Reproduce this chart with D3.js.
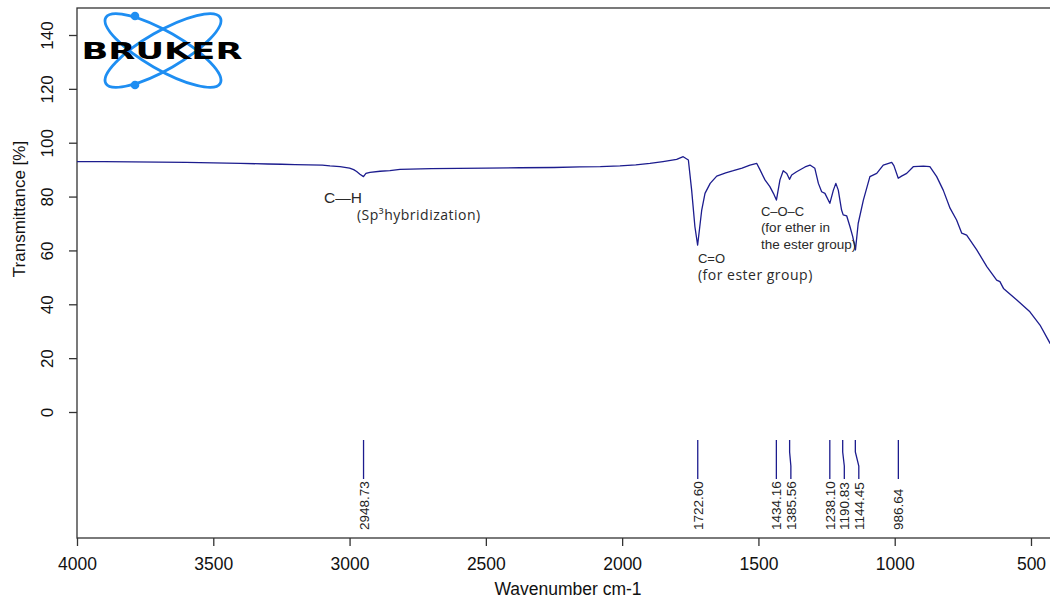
<!DOCTYPE html>
<html>
<head>
<meta charset="utf-8">
<script src="https://cdn.jsdelivr.net/npm/d3@7/dist/d3.min.js"></script>
<style>
  html, body { margin: 0; padding: 0; background: #fff; }
  svg { display: block; }
</style>
</head>
<body>
<svg id="chart" width="1050" height="603"></svg>
<script>
// ---- data ----
const wavenumbers = [4000, 3900, 3800, 3700, 3600, 3500, 3400, 3300, 3250, 3200, 3150, 3100, 3072, 3035, 3000, 2985, 2974, 2962, 2949, 2940, 2925, 2888, 2852, 2815, 2700, 2600, 2500, 2375, 2250, 2155, 2080, 2008, 1950, 1898, 1850, 1800, 1776, 1757, 1745, 1733, 1723, 1708, 1696, 1677, 1653, 1620, 1592, 1560, 1531, 1506, 1494, 1476, 1458, 1445, 1434, 1421, 1409, 1396, 1386, 1378, 1360, 1329, 1311, 1293, 1280, 1268, 1256, 1238, 1225, 1216, 1207, 1195, 1189, 1176, 1164, 1154, 1144, 1134, 1115, 1091, 1066, 1042, 1011, 1003, 987, 975, 956, 932, 895, 871, 846, 822, 797, 773, 754, 736, 699, 662, 626, 614, 601, 552, 504, 467, 430, 400];
const transmittance = [93.0, 93.0, 92.9, 92.8, 92.7, 92.5, 92.3, 92.1, 92.0, 91.9, 91.8, 91.7, 91.4, 91.1, 90.6, 90.0, 89.3, 88.3, 87.4, 88.6, 89.0, 89.4, 89.6, 90.1, 90.4, 90.5, 90.6, 90.7, 90.8, 91.0, 91.1, 91.4, 91.8, 92.3, 93.0, 93.8, 94.8, 93.6, 82.4, 68.8, 62.0, 75.0, 81.2, 84.9, 87.6, 88.8, 89.6, 90.6, 91.7, 92.3, 89.9, 86.2, 83.7, 81.2, 78.7, 86.2, 89.6, 88.6, 86.4, 88.0, 89.2, 91.0, 91.7, 90.5, 84.9, 81.8, 81.2, 77.5, 82.4, 84.9, 82.4, 75.0, 73.2, 72.8, 68.8, 65.1, 60.2, 70.0, 78.7, 87.4, 88.6, 91.7, 92.7, 91.5, 86.8, 87.6, 88.6, 91.1, 91.3, 91.1, 87.4, 82.4, 75.7, 71.3, 66.4, 65.7, 60.2, 54.0, 49.0, 48.4, 45.9, 41.6, 37.2, 32.3, 25.5, 22.0];
const peakPositions = [2948.73, 1722.60, 1434.16, 1385.56, 1238.10, 1190.83, 1144.45, 986.64];
const xTicks = [4000, 3500, 3000, 2500, 2000, 1500, 1000, 500];
const yTicks = [0, 20, 40, 60, 80, 100, 120, 140];
const xTitle = "Wavenumber cm-1";
const yTitle = "Transmittance [%]";
// annotations: text anchored at (wavenumber, %T)
const annotations = [
  {text: "C\u2014H", w: 3094, t: 77.6, font: "Liberation Sans, Arial, sans-serif", size: 15.5, ls: 0},
  {text: "(Sp\u00B3hybridization)", w: 2973, t: 71.3, font: "Open Sans, sans-serif", size: 14, ls: 0.5},
  {text: "C=O", w: 1722, t: 55.4, font: "Liberation Sans, Arial, sans-serif", size: 13, ls: 0},
  {text: "(for ester group)", w: 1722, t: 49.0, font: "Open Sans, sans-serif", size: 14, ls: 0.5},
  {text: "C\u2013O\u2013C", w: 1491, t: 72.8, font: "Liberation Sans, Arial, sans-serif", size: 13, ls: 0},
  {text: "(for ether in", w: 1491, t: 66.9, font: "Liberation Sans, Arial, sans-serif", size: 13.5, ls: 0},
  {text: "the ester group)", w: 1491, t: 60.4, font: "Liberation Sans, Arial, sans-serif", size: 13.5, ls: 0}
];

// ---- layout ----
const svg = d3.select("#chart");
const plotLeft = 77, plotTop = 8, plotBottom = 538;
const pxPerUnit = 0.27257;
const x = d3.scaleLinear().domain([4000, 400]).range([plotLeft, plotLeft + 3600 * pxPerUnit]);
const y = d3.scaleLinear().domain([0, 140]).range([412, 35]);
const lineColor = "#1c1c8e";
const axisFont = "Liberation Sans, Arial, Helvetica, sans-serif";

// box (right edge off canvas)
svg.append("rect")
  .attr("x", plotLeft).attr("y", plotTop)
  .attr("width", x(400) - plotLeft).attr("height", plotBottom - plotTop)
  .attr("fill", "none").attr("stroke", "#333").attr("stroke-width", 1.3);

// ---- logo ----
const logo = svg.append("g").attr("transform", "translate(163,50.5)");
[30, -30].forEach(a => {
  logo.append("ellipse")
    .attr("rx", 66).attr("ry", 19)
    .attr("transform", `rotate(${a})`)
    .attr("fill", "none").attr("stroke", "#1e8ef2").attr("stroke-width", 2.8);
});
logo.append("circle").attr("cx", -28).attr("cy", -34.5).attr("r", 4.3).attr("fill", "#1e8ef2");
logo.append("circle").attr("cx", -28).attr("cy", 34.5).attr("r", 4.3).attr("fill", "#1e8ef2");
svg.append("text")
  .attr("x", 81.5).attr("y", 59.3)
  .attr("textLength", 161).attr("lengthAdjust", "spacingAndGlyphs")
  .attr("font-family", "DejaVu Sans, sans-serif").attr("font-weight", 900)
  .attr("font-size", 23.5).attr("fill", "#000")
  .text("BRUKER");

// ---- axes ----
const xAxis = svg.append("g")
  .attr("transform", `translate(0,${plotBottom})`)
  .call(d3.axisBottom(x).tickValues(xTicks).tickSize(8).tickPadding(12).tickFormat(d3.format("d")));
xAxis.select(".domain").remove();
xAxis.selectAll("line").attr("stroke", "#333").attr("stroke-width", 1.3);
xAxis.selectAll("text").attr("font-family", axisFont).attr("font-size", 17.5).attr("fill", "#111");

const yAxis = svg.append("g")
  .attr("transform", `translate(${plotLeft},0)`)
  .call(d3.axisLeft(y).tickValues(yTicks).tickSize(8).tickFormat(d3.format("d")));
yAxis.select(".domain").remove();
yAxis.selectAll("line").attr("stroke", "#333").attr("stroke-width", 1.3);
yAxis.selectAll("text")
  .attr("x", 0).attr("y", 0).attr("dy", 0)
  .attr("transform", "translate(-24,0) rotate(-90)")
  .attr("text-anchor", "middle")
  .attr("font-family", axisFont).attr("font-size", 17).attr("fill", "#111");

svg.append("text")
  .attr("transform", "translate(25,209) rotate(-90)")
  .attr("text-anchor", "middle")
  .attr("font-family", axisFont).attr("font-size", 17).attr("fill", "#111")
  .text(yTitle);

svg.append("text")
  .attr("x", 568).attr("y", 595)
  .attr("text-anchor", "middle")
  .attr("font-family", axisFont).attr("font-size", 17.5).attr("fill", "#111")
  .text(xTitle);

// ---- spectrum ----
const pts = wavenumbers.map((w, i) => [w, transmittance[i]]);
svg.append("path")
  .datum(pts)
  .attr("fill", "none").attr("stroke", lineColor).attr("stroke-width", 1.3)
  .attr("stroke-linejoin", "round")
  .attr("d", d3.line().x(d => x(d[0])).y(d => y(d[1])));

// ---- peak markers ----
const gap = 14.5;
const peaks = peakPositions.map(p => ({p, px: x(p)})).sort((a, b) => a.px - b.px);
peaks.forEach((d, i) => {
  d.lx = d.px;
  if (i > 0 && d.lx < peaks[i - 1].lx + gap) d.lx = peaks[i - 1].lx + gap;
});
const mTop = 440, mBend1 = 452, mBend2 = 466, mBot = 479, labBase = 530;
const pg = svg.append("g");
pg.selectAll("path").data(peaks).join("path")
  .attr("fill", "none").attr("stroke", lineColor).attr("stroke-width", 1.3)
  .attr("d", d => `M${d.px},${mTop}L${d.px},${mBend1}L${d.lx},${mBend2}L${d.lx},${mBot}`);
pg.selectAll("text").data(peaks).join("text")
  .attr("transform", d => `translate(${d.lx + 5},${labBase}) rotate(-90)`)
  .attr("text-anchor", "start")
  .attr("font-family", axisFont).attr("font-size", 13.5).attr("fill", "#222")
  .text(d => d.p.toFixed(2));

// ---- annotations ----
svg.append("g").selectAll("text").data(annotations).join("text")
  .attr("x", d => x(d.w)).attr("y", d => y(d.t))
  .attr("font-family", d => d.font).attr("font-size", d => d.size)
  .attr("letter-spacing", d => d.ls)
  .attr("fill", "#2a2a2a")
  .text(d => d.text);
</script>
</body>
</html>
